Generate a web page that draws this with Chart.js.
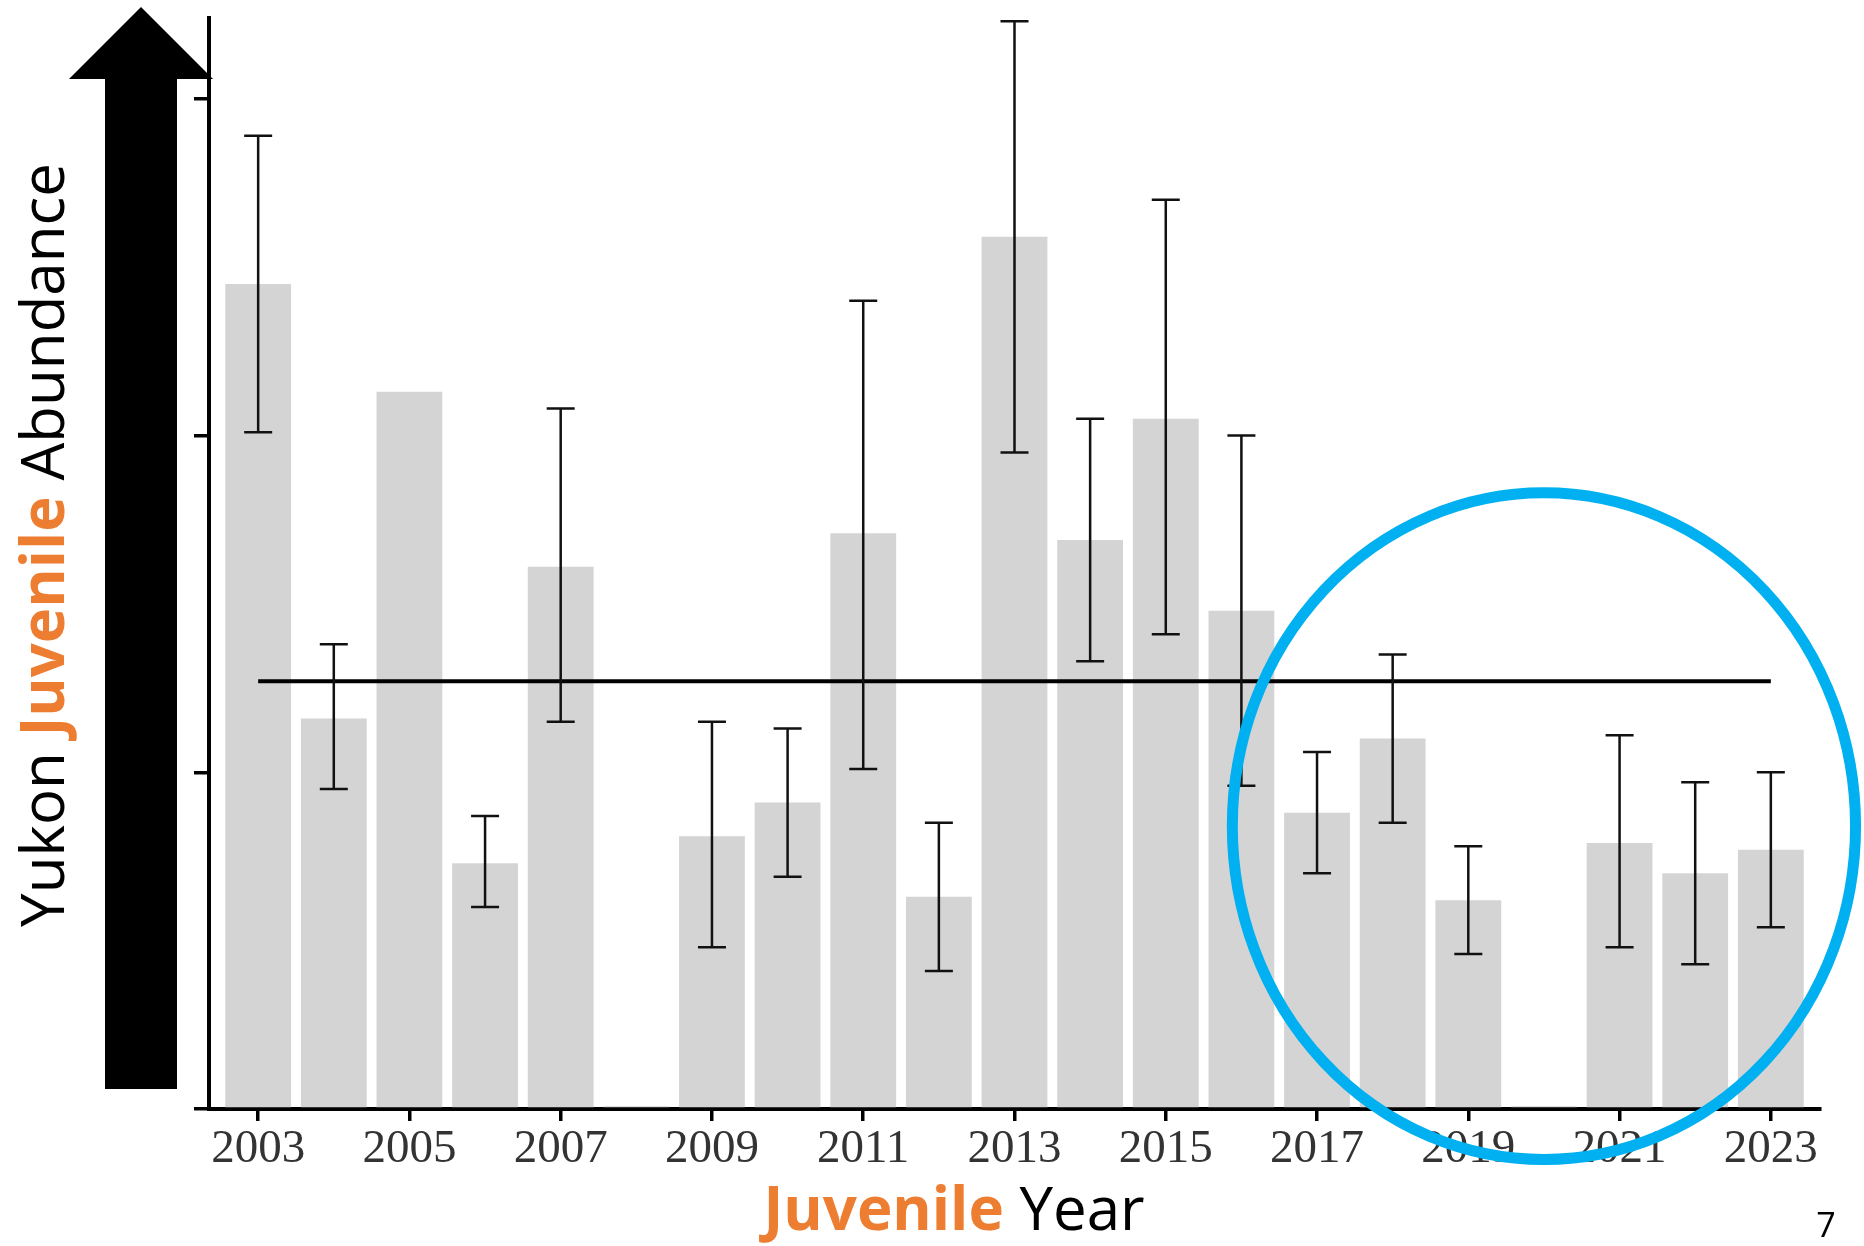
<!DOCTYPE html>
<html>
<head>
<meta charset="utf-8">
<script src="https://cdn.jsdelivr.net/npm/chart.js@4"></script>
<style>
  body { margin: 0; background: #fff; }
  #wrap { width: 1864px; height: 1246px; position: relative; }
</style>
</head>
<body>
<div id="wrap"><canvas id="chart"></canvas></div>
<script>
/* Data (y in tick units, ticks at 0..3) */

const years = [2003, 2004, 2005, 2006, 2007, 2008, 2009, 2010, 2011, 2012, 2013,
               2014, 2015, 2016, 2017, 2018, 2019, 2020, 2021, 2022, 2023];
const abundance = [2.45, 1.16, 2.13, 0.73, 1.61, 0.008, 0.81, 0.91, 1.71, 0.63, 2.59,
                   1.69, 2.05, 1.48, 0.88, 1.10, 0.62, 0.008, 0.79, 0.70, 0.77];
const errLow = [2.01, 0.95, null, 0.60, 1.15, null, 0.48, 0.69, 1.01, 0.41, 1.95,
                1.33, 1.41, 0.96, 0.70, 0.85, 0.46, null, 0.48, 0.43, 0.54];
const errHigh = [2.89, 1.38, null, 0.87, 2.08, null, 1.15, 1.13, 2.40, 0.85, 3.23,
                 2.05, 2.70, 2.00, 1.06, 1.35, 0.78, null, 1.11, 0.97, 1.00];
const meanAbundance = 1.27;
const tickYears = [2003, 2005, 2007, 2009, 2011, 2013, 2015, 2017, 2019, 2021, 2023];
const yTicks = [0, 1, 2, 3];

/* circled region of recent years */
const circleCenter = { x: 2020, y: 0.84 };
const circleRadius = { x: 4.12, y: 0.99 };

const ORANGE = "#ED7D31";
const BLUE = "#00B0F0";
const TITLE_FONT = "'Open Sans', 'Noto Sans', sans-serif";

/* Error bars */
const errorBarPlugin = {
    id: "errorBars",
    afterDatasetsDraw(chart) {
        const { ctx, scales: { x, y } } = chart;
        ctx.save();
        ctx.strokeStyle = "#111";
        ctx.lineWidth = 2.5;
        years.forEach((yr, i) => {
            if (errLow[i] == null) return;
            const px = x.getPixelForValue(yr);
            const top = y.getPixelForValue(errHigh[i]);
            const bot = y.getPixelForValue(errLow[i]);
            const cap = 14;
            ctx.beginPath();
            ctx.moveTo(px, top); ctx.lineTo(px, bot);
            ctx.moveTo(px - cap, top); ctx.lineTo(px + cap, top);
            ctx.moveTo(px - cap, bot); ctx.lineTo(px + cap, bot);
            ctx.stroke();
        });
        ctx.restore();
    }
};

/* Arrow, axis titles, blue circle, page number */
const decorPlugin = {
    id: "decor",
    afterDraw(chart) {
        const { ctx, chartArea, scales: { x, y } } = chart;
        ctx.save();

        // big up arrow left of the axis
        const ax = chartArea.left - 68;
        ctx.fillStyle = "#000";
        ctx.fillRect(ax - 36, chartArea.top + 61, 72, chartArea.bottom - chartArea.top - 81);
        ctx.beginPath();
        ctx.moveTo(ax - 72, chartArea.top + 61);
        ctx.lineTo(ax, chartArea.top - 11);
        ctx.lineTo(ax + 72, chartArea.top + 61);
        ctx.closePath();
        ctx.fill();

        // y title
        const parts = [
            { text: "Yukon ", color: "#000", weight: "normal" },
            { text: "Juvenile", color: ORANGE, weight: "bold" },
            { text: " Abundance", color: "#000", weight: "normal" }
        ];
        const size = 60;
        let total = 0;
        parts.forEach(p => {
            ctx.font = `${p.weight} ${size}px ${TITLE_FONT}`;
            p.w = ctx.measureText(p.text).width;
            total += p.w;
        });
        ctx.translate(64, 545);
        ctx.rotate(-Math.PI / 2);
        ctx.textBaseline = "alphabetic";
        ctx.textAlign = "left";
        let cx = -total / 2;
        parts.forEach(p => {
            ctx.font = `${p.weight} ${size}px ${TITLE_FONT}`;
            ctx.fillStyle = p.color;
            ctx.fillText(p.text, cx, 0);
            cx += p.w;
        });
        ctx.setTransform(1, 0, 0, 1, 0, 0);

        // x title
        const xParts = [
            { text: "Juvenile", color: ORANGE, weight: "bold" },
            { text: " Year", color: "#000", weight: "normal" }
        ];
        let xTotal = 0;
        xParts.forEach(p => {
            ctx.font = `${p.weight} ${size}px ${TITLE_FONT}`;
            p.w = ctx.measureText(p.text).width;
            xTotal += p.w;
        });
        let tx = 954 - xTotal / 2;
        xParts.forEach(p => {
            ctx.font = `${p.weight} ${size}px ${TITLE_FONT}`;
            ctx.fillStyle = p.color;
            ctx.fillText(p.text, tx, 1230);
            tx += p.w;
        });

        // page number
        ctx.font = `34px ${TITLE_FONT}`;
        ctx.fillStyle = "#000";
        ctx.textAlign = "center";
        ctx.fillText("7", 1826, 1237);

        // blue ellipse
        const ex = x.getPixelForValue(circleCenter.x);
        const ey = y.getPixelForValue(circleCenter.y);
        const rx = Math.abs(x.getPixelForValue(circleCenter.x + circleRadius.x) - ex);
        const ry = Math.abs(y.getPixelForValue(circleCenter.y + circleRadius.y) - ey);
        ctx.strokeStyle = BLUE;
        ctx.lineWidth = 11;
        ctx.beginPath();
        ctx.ellipse(ex, ey, rx, ry, 0, 0, Math.PI * 2);
        ctx.stroke();

        ctx.restore();
    }
};

const chartCanvas = document.querySelector("#chart");

const abundanceChart = new Chart(chartCanvas, {
    type: "bar",
    data: {
        datasets: [
            {
                type: "line",
                label: "Mean",
                data: [
                    { x: years[0], y: meanAbundance },
                    { x: years[years.length - 1], y: meanAbundance }
                ],
                borderColor: "#000",
                borderWidth: 4,
                pointRadius: 0,
                fill: false,
                order: 0
            },
            {
                label: "Juvenile abundance",
                data: years.map((yr, i) => ({ x: yr, y: abundance[i] })),
                backgroundColor: "#d4d4d4",
                borderWidth: 0,
                categoryPercentage: 1,
                barPercentage: 0.87,
                minBarLength: 2,
                order: 1
            }
        ]
    },
    options: {
        responsive: true,
        maintainAspectRatio: false,
        animation: false,
        layout: {
            padding: { left: 169, right: 44, top: 18, bottom: 55 }
        },
        plugins: {
            legend: { display: false },
            tooltip: { enabled: false }
        },
        scales: {
            x: {
                type: "linear",
                min: 2002.35,
                max: 2023.65,
                offset: false,
                z: 1,
                afterBuildTicks: scale => {
                    scale.ticks = tickYears.map(v => ({ value: v }));
                },
                afterFit: scale => { scale.height = 82; },
                grid: {
                    offset: false,
                    drawOnChartArea: false,
                    drawTicks: true,
                    tickLength: 12,
                    color: "#000",
                    lineWidth: 3.5
                },
                border: { display: true, color: "#000", width: 4 },
                ticks: {
                    autoSkip: false,
                    maxRotation: 0,
                    padding: 0,
                    color: "#333",
                    font: { family: "'Liberation Serif', 'DejaVu Serif', serif", size: 47 },
                    callback: value => String(value)
                }
            },
            y: {
                min: 0,
                max: 3.24,
                z: 1,
                afterBuildTicks: scale => {
                    scale.ticks = yTicks.map(v => ({ value: v }));
                },
                afterFit: scale => { scale.width = 40; },
                grid: {
                    drawOnChartArea: false,
                    drawTicks: true,
                    tickLength: 15,
                    color: "#000",
                    lineWidth: 3.5
                },
                border: { display: true, color: "#000", width: 4 },
                ticks: { display: false }
            }
        }
    },
    plugins: [errorBarPlugin, decorPlugin]
});
</script>
</body>
</html>
